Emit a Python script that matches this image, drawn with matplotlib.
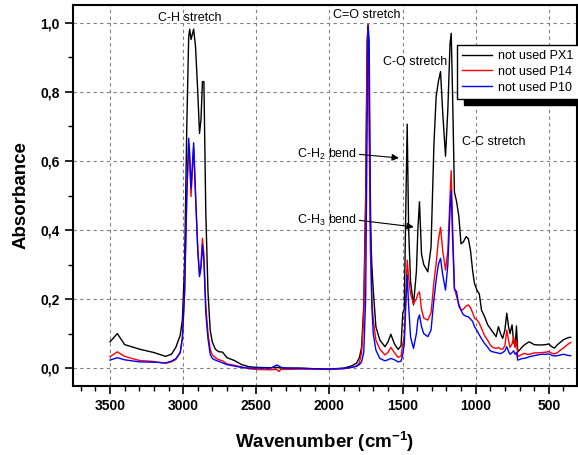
import numpy as np
import matplotlib
matplotlib.use("Agg")
import matplotlib.pyplot as plt
from matplotlib.ticker import MultipleLocator, FuncFormatter

plt.rcParams['font.family'] = ['Liberation Sans', 'DejaVu Sans']
plt.rcParams['mathtext.fontset'] = 'custom'
plt.rcParams['mathtext.rm'] = 'Liberation Sans'
plt.rcParams['mathtext.it'] = 'Liberation Sans:italic'
plt.rcParams['mathtext.bf'] = 'Liberation Sans:bold'

# wavenumber grid (cm-1), shared by all three spectra
wn = [3500, 3450, 3400, 3300, 3200, 3120, 3080, 3050, 3020, 3005, 2990, 2975,
      2962, 2955, 2946, 2938, 2928, 2915, 2900, 2888, 2878, 2868, 2858, 2845,
      2830, 2815, 2800, 2780, 2760, 2730, 2700, 2650, 2600, 2550, 2500, 2400,
      2360, 2345, 2330, 2300, 2200, 2100, 2000, 1900, 1850, 1815, 1795, 1780,
      1765, 1752, 1742, 1735, 1728, 1720, 1710, 1700, 1682, 1655, 1620, 1600,
      1580, 1555, 1530, 1510, 1498, 1488, 1478, 1468, 1458, 1445, 1425, 1405,
      1395, 1384, 1370, 1355, 1327, 1305, 1285, 1270, 1255, 1240, 1225, 1206,
      1190, 1175, 1167, 1158, 1145, 1130, 1115, 1100, 1085, 1065, 1050, 1035,
      1020, 1008, 990, 975, 960, 940, 917, 900, 883, 860, 844, 830, 815, 800,
      787, 775, 765, 751, 740, 730, 721, 712, 700, 680, 667, 650, 633, 600,
      576, 550, 520, 500, 480, 461, 440, 420, 400, 380, 360, 350]

abs_px1 = [0.076, 0.100, 0.068, 0.055, 0.045, 0.034, 0.040, 0.060, 0.095, 0.140, 0.300, 0.700,
           0.960, 0.982, 0.952, 0.965, 0.982, 0.930, 0.800, 0.680, 0.720, 0.830, 0.830, 0.450,
           0.220, 0.110, 0.075, 0.055, 0.048, 0.046, 0.030, 0.022, 0.010, 0.004, 0.002, 0.001,
           0.002, 0.001, 0.000, 0.000, 0.000, -0.002, -0.003, 0.000, 0.006, 0.014, 0.030, 0.060,
           0.180, 0.500, 0.950, 0.995, 0.800, 0.420, 0.300, 0.226, 0.120, 0.081, 0.062, 0.075,
           0.098, 0.070, 0.054, 0.065, 0.160, 0.170, 0.450, 0.707, 0.400, 0.250, 0.183, 0.280,
           0.400, 0.482, 0.330, 0.300, 0.279, 0.350, 0.650, 0.786, 0.830, 0.859, 0.740, 0.614,
           0.750, 0.940, 0.970, 0.800, 0.510, 0.482, 0.440, 0.360, 0.365, 0.381, 0.375, 0.340,
           0.280, 0.245, 0.225, 0.215, 0.168, 0.150, 0.125, 0.115, 0.105, 0.091, 0.120, 0.100, 0.086, 0.110,
           0.159, 0.120, 0.100, 0.125, 0.075, 0.062, 0.122, 0.047, 0.052, 0.062, 0.067, 0.072, 0.076, 0.068,
           0.067, 0.067, 0.068, 0.070, 0.062, 0.058, 0.068, 0.075, 0.082, 0.086, 0.089, 0.089]

abs_p14 = [0.033, 0.047, 0.034, 0.022, 0.019, 0.014, 0.018, 0.025, 0.045, 0.090, 0.220, 0.500,
           0.650, 0.600, 0.497, 0.560, 0.640, 0.500, 0.350, 0.270, 0.300, 0.376, 0.330, 0.180,
           0.100, 0.055, 0.038, 0.030, 0.025, 0.021, 0.012, 0.008, 0.003, -0.002, -0.004, -0.005,
           -0.004, -0.010, -0.003, -0.004, -0.003, -0.003, -0.004, -0.002, 0.002, 0.006, 0.015, 0.043,
           0.150, 0.450, 0.900, 0.995, 0.700, 0.350, 0.200, 0.140, 0.081, 0.055, 0.038, 0.045,
           0.060, 0.045, 0.031, 0.035, 0.070, 0.090, 0.200, 0.313, 0.260, 0.215, 0.187, 0.200,
           0.215, 0.221, 0.170, 0.145, 0.139, 0.160, 0.250, 0.303, 0.370, 0.408, 0.340, 0.284,
           0.340, 0.500, 0.572, 0.420, 0.230, 0.207, 0.185, 0.168, 0.170, 0.180, 0.183, 0.175,
           0.160, 0.145, 0.139, 0.130, 0.115, 0.095, 0.080, 0.067, 0.060, 0.057, 0.060, 0.055, 0.055, 0.065,
           0.110, 0.080, 0.060, 0.070, 0.090, 0.060, 0.080, 0.033, 0.036, 0.040, 0.043, 0.040, 0.040, 0.044,
           0.044, 0.045, 0.046, 0.048, 0.043, 0.041, 0.045, 0.052, 0.058, 0.065, 0.072, 0.074]

abs_p10 = [0.023, 0.030, 0.024, 0.018, 0.017, 0.015, 0.020, 0.027, 0.045, 0.085, 0.220, 0.500,
           0.666, 0.620, 0.520, 0.580, 0.653, 0.500, 0.340, 0.265, 0.290, 0.357, 0.310, 0.160,
           0.085, 0.040, 0.028, 0.023, 0.020, 0.015, 0.010, 0.006, 0.002, 0.000, 0.000, 0.000,
           0.009, 0.006, 0.002, 0.000, -0.001, -0.002, -0.003, -0.001, 0.002, 0.005, 0.010, 0.018,
           0.045, 0.200, 0.700, 0.990, 0.950, 0.500, 0.180, 0.100, 0.052, 0.028, 0.021, 0.024,
           0.028, 0.024, 0.018, 0.020, 0.040, 0.070, 0.180, 0.270, 0.180, 0.090, 0.057, 0.100,
           0.140, 0.154, 0.120, 0.100, 0.091, 0.110, 0.200, 0.255, 0.300, 0.318, 0.270, 0.226,
           0.300, 0.460, 0.514, 0.380, 0.230, 0.221, 0.180, 0.168, 0.155, 0.150, 0.149, 0.142,
           0.135, 0.120, 0.108, 0.096, 0.085, 0.072, 0.060, 0.050, 0.047, 0.045, 0.043, 0.042, 0.045, 0.050,
           0.062, 0.048, 0.040, 0.045, 0.050, 0.040, 0.045, 0.023, 0.025, 0.028, 0.028, 0.030, 0.033, 0.036,
           0.038, 0.040, 0.040, 0.041, 0.037, 0.035, 0.036, 0.038, 0.040, 0.038, 0.036, 0.036]

series_names = ["not used PX1", "not used P14", "not used P10"]
colors = ["black", "red", "blue"]

fig = plt.figure(figsize=(5.78, 4.55), dpi=100)
ax = fig.add_axes([0.1263, 0.1516, 0.8717, 0.8374])

for vals, name, c in zip([abs_px1, abs_p14, abs_p10], series_names, colors):
    ax.plot(wn, vals, color=c, lw=1.0, label=name)

ax.set_xlim(3753, 308)
ax.set_ylim(-0.052, 1.052)
ax.xaxis.set_major_locator(MultipleLocator(500))
ax.xaxis.set_minor_locator(MultipleLocator(100))
ax.yaxis.set_major_locator(MultipleLocator(0.2))
ax.yaxis.set_minor_locator(MultipleLocator(0.1))
ax.yaxis.set_major_formatter(FuncFormatter(lambda v, p: ("%.1f" % v).replace('.', ',')))
ax.grid(True, which='major', color='#808080', linestyle=(0, (3, 3)), lw=0.8)
ax.tick_params(which='major', direction='out', length=6, width=1.2, labelsize=10)
ax.tick_params(which='minor', direction='out', length=3.5, width=1.0)
for lab in ax.get_xticklabels() + ax.get_yticklabels():
    lab.set_fontweight('bold')
for sp in ax.spines.values():
    sp.set_linewidth(1.5)

ax.set_ylabel("Absorbance", fontsize=13.5, fontweight='bold', labelpad=8)
ax.set_xlabel(r"Wavenumber (cm$^{\mathbf{-1}}$)", fontsize=13.5, fontweight='bold', labelpad=12)

# band annotations
ax.text(2953, 1.013, "C-H stretch", ha='center', va='center', fontsize=9)
ax.text(1745, 1.023, "C=O stretch", ha='center', va='center', fontsize=9)
ax.text(1413, 0.888, "C-O stretch", ha='center', va='center', fontsize=9)
ax.text(877, 0.656, "C-C stretch", ha='center', va='center', fontsize=9)
ax.text(2224, 0.62, r"C-H$_2$ bend", ha='left', va='center', fontsize=9)
ax.text(2224, 0.429, r"C-H$_3$ bend", ha='left', va='center', fontsize=9)
ax.annotate("", xy=(1506, 0.608), xytext=(1814, 0.620),
            arrowprops=dict(arrowstyle='-|>', color='black', lw=0.8, mutation_scale=10))
ax.annotate("", xy=(1404, 0.408), xytext=(1814, 0.429),
            arrowprops=dict(arrowstyle='-|>', color='black', lw=0.8, mutation_scale=10))

leg = ax.legend(loc='upper left', bbox_to_anchor=(0.762, 0.895), fontsize=9,
                fancybox=False, edgecolor='black', framealpha=1, borderaxespad=0,
                handlelength=2.4, labelspacing=0.3, borderpad=0.4, handletextpad=0.5,
                shadow={'color': 'black', 'alpha': 1, 'ox': 5, 'oy': -5})
leg.get_frame().set_linewidth(1.0)

fig.savefig("out.png", dpi=100)
